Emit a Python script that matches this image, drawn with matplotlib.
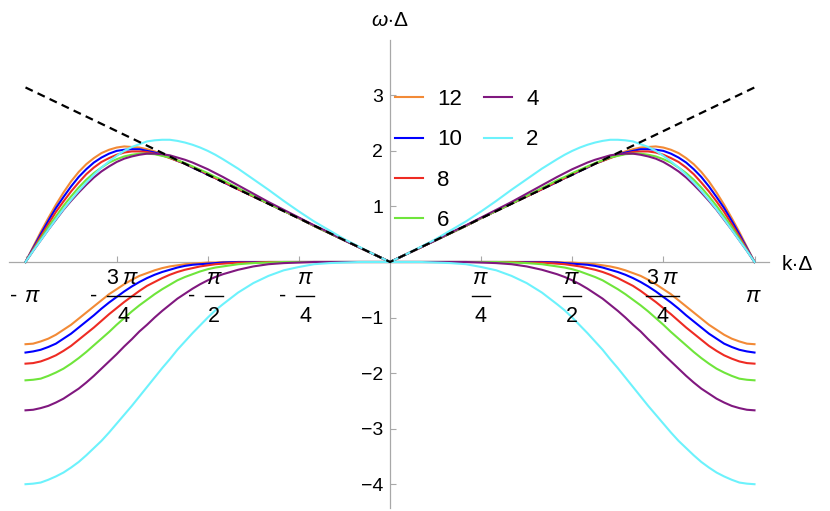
import numpy as np
import matplotlib
matplotlib.use("Agg")
import matplotlib.pyplot as plt
from matplotlib.lines import Line2D
from matplotlib.transforms import IdentityTransform

plt.rcParams['font.family'] = ['Liberation Sans', 'DejaVu Sans']
plt.rcParams['mathtext.fontset'] = 'custom'
plt.rcParams['mathtext.rm'] = 'Liberation Sans'
plt.rcParams['mathtext.it'] = 'Liberation Sans:italic'
plt.rcParams['mathtext.bf'] = 'Liberation Sans:bold'

# sample positions k*Delta in units of pi/24 on [0, pi]; curves are mirrored for k < 0
k_steps = [0, 1, 2, 3, 4, 5, 6, 7, 8, 9, 10, 11,
           11.5, 12, 12.5, 13, 13.5, 14, 14.5, 15, 15.5, 16, 16.5, 17, 17.5,
           18, 18.5, 19, 19.5, 20, 20.5, 21, 21.5, 22, 22.5, 23, 23.5, 24]
k = np.array(k_steps) * np.pi / 24

orders = [12, 10, 8, 6, 4, 2]
colors = {12: '#f28a36', 10: '#0000ff', 8: '#ee2b23', 6: '#6fe53b',
          4: '#80187f', 2: '#6cf2fc'}

re_12 = [0, 0.13, 0.26, 0.39, 0.52, 0.65, 0.79, 0.92, 1.05, 1.18, 1.31, 1.44,
         1.51, 1.57, 1.64, 1.70, 1.77, 1.83, 1.88, 1.94, 1.99, 2.03, 2.06, 2.07, 2.08,
         2.06, 2.02, 1.96, 1.87, 1.76, 1.62, 1.45, 1.25, 1.03, 0.79, 0.54, 0.27, 0]
re_10 = [0, 0.13, 0.26, 0.39, 0.52, 0.65, 0.79, 0.92, 1.05, 1.18, 1.31, 1.44,
         1.51, 1.57, 1.64, 1.70, 1.77, 1.82, 1.88, 1.93, 1.97, 2.00, 2.03, 2.03, 2.02,
         2.00, 1.95, 1.88, 1.79, 1.67, 1.53, 1.36, 1.17, 0.97, 0.74, 0.50, 0.25, 0]
re_8 = [0, 0.13, 0.26, 0.39, 0.52, 0.65, 0.79, 0.92, 1.05, 1.18, 1.31, 1.45,
        1.51, 1.58, 1.65, 1.71, 1.77, 1.82, 1.87, 1.92, 1.95, 1.98, 1.99, 1.99, 1.97,
        1.93, 1.87, 1.80, 1.70, 1.58, 1.43, 1.27, 1.09, 0.90, 0.68, 0.46, 0.23, 0]
re_6 = [0, 0.13, 0.26, 0.39, 0.52, 0.65, 0.79, 0.92, 1.05, 1.19, 1.33, 1.47,
        1.53, 1.60, 1.66, 1.72, 1.78, 1.83, 1.88, 1.91, 1.94, 1.95, 1.95, 1.93, 1.90,
        1.85, 1.79, 1.70, 1.60, 1.48, 1.34, 1.18, 1.01, 0.82, 0.63, 0.42, 0.21, 0]
re_4 = [0, 0.13, 0.26, 0.39, 0.53, 0.66, 0.80, 0.94, 1.08, 1.23, 1.38, 1.53,
        1.60, 1.67, 1.73, 1.79, 1.84, 1.88, 1.92, 1.94, 1.95, 1.95, 1.93, 1.90, 1.86,
        1.80, 1.72, 1.63, 1.52, 1.39, 1.25, 1.10, 0.94, 0.76, 0.58, 0.39, 0.20, 0]
re_2 = [0, 0.13, 0.27, 0.41, 0.57, 0.73, 0.91, 1.10, 1.30, 1.49, 1.68, 1.85,
        1.93, 2.00, 2.06, 2.11, 2.15, 2.18, 2.20, 2.20, 2.19, 2.17, 2.12, 2.07, 2.00,
        1.91, 1.81, 1.70, 1.57, 1.43, 1.28, 1.12, 0.95, 0.77, 0.58, 0.39, 0.20, 0]

# lower branch (imaginary part)
im_12 = [0, 0, 0, 0, 0, 0, 0, 0, 0, 0, 0, 0,
         -0.01, -0.01, -0.02, -0.03, -0.04, -0.06, -0.08, -0.11, -0.15, -0.20, -0.25, -0.32, -0.40,
         -0.49, -0.58, -0.69, -0.80, -0.91, -1.02, -1.13, -1.22, -1.31, -1.38, -1.43, -1.47, -1.48]
im_10 = [0, 0, 0, 0, 0, 0, 0, 0, 0, 0, 0, -0.01,
         -0.02, -0.03, -0.04, -0.05, -0.07, -0.10, -0.14, -0.18, -0.23, -0.29, -0.36, -0.44, -0.53,
         -0.63, -0.73, -0.84, -0.96, -1.07, -1.18, -1.29, -1.38, -1.47, -1.53, -1.58, -1.61, -1.63]
im_8 = [0, 0, 0, 0, 0, 0, 0, 0, 0, -0.01, -0.01, -0.03,
        -0.04, -0.06, -0.08, -0.11, -0.14, -0.18, -0.23, -0.29, -0.36, -0.43, -0.52, -0.62, -0.72,
        -0.83, -0.94, -1.06, -1.18, -1.29, -1.40, -1.51, -1.60, -1.68, -1.74, -1.79, -1.82, -1.83]
im_6 = [0, 0, 0, 0, 0, 0, 0, 0, -0.01, -0.02, -0.04, -0.08,
        -0.10, -0.13, -0.17, -0.22, -0.27, -0.33, -0.41, -0.49, -0.58, -0.68, -0.78, -0.89, -1.01,
        -1.13, -1.26, -1.38, -1.50, -1.62, -1.73, -1.83, -1.92, -1.99, -2.05, -2.10, -2.12, -2.13]
im_4 = [0, 0, 0, 0, 0, 0, -0.01, -0.02, -0.04, -0.08, -0.14, -0.22,
        -0.27, -0.33, -0.40, -0.48, -0.57, -0.66, -0.77, -0.88, -1.00, -1.13, -1.25, -1.39, -1.52,
        -1.66, -1.79, -1.92, -2.05, -2.17, -2.28, -2.37, -2.46, -2.53, -2.59, -2.63, -2.66, -2.67]
im_2 = [0, 0, 0, -0.01, -0.02, -0.04, -0.09, -0.15, -0.25, -0.38, -0.55, -0.76,
        -0.87, -1.00, -1.14, -1.28, -1.43, -1.58, -1.75, -1.91, -2.08, -2.25, -2.42, -2.59, -2.75,
        -2.91, -3.07, -3.22, -3.35, -3.48, -3.60, -3.70, -3.79, -3.86, -3.92, -3.97, -3.99, -4.00]

re_parts = {12: re_12, 10: re_10, 8: re_8, 6: re_6, 4: re_4, 2: re_2}
im_parts = {12: im_12, 10: im_10, 8: im_8, 6: im_6, 4: im_4, 2: im_2}

# exact relation omega = |k|
exact_k = [-np.pi, 0, np.pi]
exact_w = [np.pi, 0, np.pi]

xtick_vals = [-np.pi, -3 * np.pi / 4, -np.pi / 2, -np.pi / 4,
              np.pi / 4, np.pi / 2, 3 * np.pi / 4, np.pi]
# (sign, numerator, denominator) for each x tick label
xtick_parts = [('-', r'$\pi$', None), ('-', r'$3\;\pi$', '4'), ('-', r'$\pi$', '2'),
               ('-', r'$\pi$', '4'), ('', r'$\pi$', '4'), ('', r'$\pi$', '2'),
               ('', r'$3\;\pi$', '4'), ('', r'$\pi$', None)]
ytick_vals = [-4, -3, -2, -1, 1, 2, 3]

fig = plt.figure(figsize=(8.3, 5.11), dpi=100)
ax = fig.add_axes([0.01139, 0.00568, 0.9156, 0.9165])
ax.set_xlim(-3.28, 3.27)
ax.set_ylim(-4.43, 4.0)

axis_gray = '#a8a8a8'
for side in ['top', 'right']:
    ax.spines[side].set_visible(False)
ax.spines['left'].set_position(('data', 0))
ax.spines['bottom'].set_position(('data', 0))
for side in ['left', 'bottom']:
    ax.spines[side].set_color(axis_gray)
    ax.spines[side].set_linewidth(0.9)

lw = 1.5
kk = np.concatenate([-k[::-1], k])
for p in orders:
    re = np.asarray(re_parts[p])
    im = np.asarray(im_parts[p])
    ax.plot(kk, np.concatenate([re[::-1], re]), color=colors[p], lw=lw, zorder=3)
    ax.plot(kk, np.concatenate([im[::-1], im]), color=colors[p], lw=lw, zorder=3)

ax.plot(exact_k, exact_w, color='black', lw=1.6, dashes=(3.6, 2.4), zorder=4)

ax.set_xticks(xtick_vals)
ax.set_xticklabels([''] * len(xtick_vals))
ax.set_yticks(ytick_vals)
ax.tick_params(axis='x', direction='in', length=4, width=0.8, color=axis_gray)
ax.tick_params(axis='y', direction='in', length=4, width=0.8, color=axis_gray,
               pad=5, labelsize=14)

# Mathematica-style stacked fraction tick labels
fs_frac = 15.5
for v, (sign, num, den) in zip(xtick_vals, xtick_parts):
    neg = sign == '-'
    body_dx = 6.5 if neg else -0.5
    if den is None:
        ax.annotate(num, xy=(v, 0), xycoords='data', xytext=(body_dx if neg else -1.5, -35),
                    textcoords='offset pixels', ha='center', va='center', fontsize=fs_frac)
        if neg:
            ax.annotate('-', xy=(v, 0), xycoords='data', xytext=(-11.5, -34),
                        textcoords='offset pixels', ha='center', va='center', fontsize=fs_frac)
        continue
    half = 16.5 if '3' in num else 9.0
    ax.annotate(num, xy=(v, 0), xycoords='data', xytext=(body_dx, -17),
                textcoords='offset pixels', ha='center', va='center', fontsize=fs_frac)
    ax.annotate(den, xy=(v, 0), xycoords='data', xytext=(body_dx, -55),
                textcoords='offset pixels', ha='center', va='center', fontsize=fs_frac)
    x0, y0 = ax.transData.transform((v, 0))
    fig.add_artist(Line2D([x0 + body_dx - half, x0 + body_dx + half], [y0 - 34, y0 - 34],
                          transform=IdentityTransform(), color='black', lw=1.0))
    if neg:
        ax.annotate('-', xy=(v, 0), xycoords='data', xytext=(body_dx - half - 13.5, -34),
                    textcoords='offset pixels', ha='center', va='center', fontsize=fs_frac)

handles = [Line2D([], [], color=colors[p], lw=lw) for p in orders]
labels = [str(p) for p in orders]
handles += [Line2D([], [], color='none', lw=lw), Line2D([], [], color='none', lw=lw)]
labels += ['', '']
fig.legend(handles, labels, ncol=2, loc='upper left',
           bbox_to_anchor=(395 / 830, 1 - 89 / 511),
           frameon=False, borderpad=0, borderaxespad=0,
           handlelength=1.26, handletextpad=0.63, columnspacing=1.0,
           labelspacing=0.87, fontsize=16)

fig.text(782 / 830, 1 - 264 / 511, 'k·Δ', ha='left', va='center', fontsize=15)
fig.text(390 / 830, 1 - 20 / 511, r'$\omega{\cdot}\Delta$', ha='center', va='center',
         fontsize=15)

fig.savefig('out.png', dpi=100)
